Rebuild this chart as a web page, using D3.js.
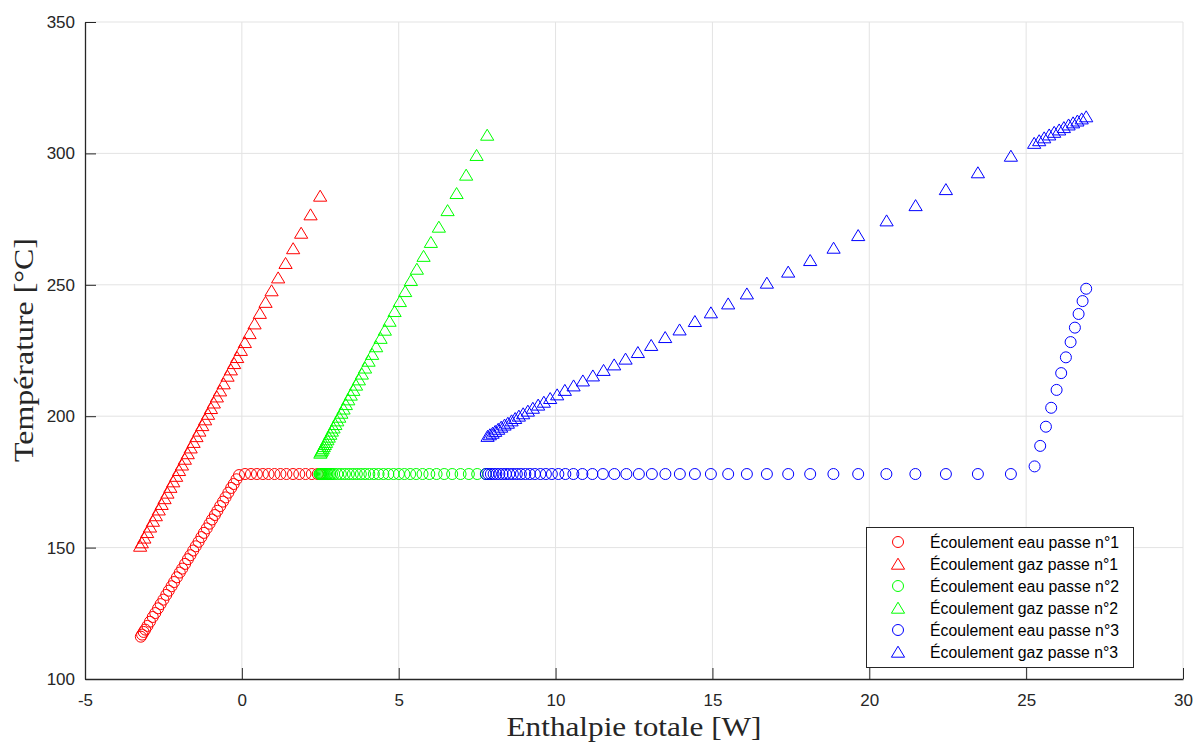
<!DOCTYPE html>
<html><head><meta charset="utf-8">
<script src="https://cdn.jsdelivr.net/npm/d3@7"></script>
<style>body{margin:0;background:#fff}</style>
</head><body>
<svg id="chart" width="1199" height="742"></svg>
<script>
// ---------- DATA ----------
const xTicks = [-5,0,5,10,15,20,25,30];
const yTicks = [100,150,200,250,300,350];
const seriesNames = ["Écoulement eau passe n°1","Écoulement gaz passe n°1","Écoulement eau passe n°2","Écoulement gaz passe n°2","Écoulement eau passe n°3","Écoulement gaz passe n°3"];

// Pass 1 water
const eau1H = [-3.22,-3.18,-3.13,-3.08,-3.01,-2.93,-2.84,-2.76,-2.67,-2.59,-2.50,-2.41,-2.33,-2.24,-2.16,-2.07,-1.98,-1.90,-1.81,-1.72,-1.64,-1.55,-1.47,-1.38,-1.29,-1.21,-1.12,-1.03,-0.95,-0.86,-0.78,-0.69,-0.60,-0.52,-0.43,-0.34,-0.26,-0.17,-0.09,
  0.10,0.29,0.48,0.67,0.85,1.04,1.23,1.42,1.63,1.83,2.03,2.23,2.42];
const eau1T = [116.1,116.9,117.9,118.8,120.2,121.8,123.6,125.1,126.9,128.5,130.2,132.0,133.6,135.3,136.9,138.7,140.5,142.0,143.8,145.6,147.1,148.9,150.5,152.2,154.0,155.6,157.3,159.1,160.7,162.4,164.0,165.8,167.5,169.1,170.9,172.7,174.2,176.0,177.6,
  178.0,178.0,178.0,178.0,178.0,178.0,178.0,178.0,178.0,178.0,178.0,178.0,178.0];
// Pass 1 gas
const gaz1H = [-3.242,-3.188,-3.108,-3.019,-2.927,-2.834,-2.742,-2.649,-2.557,-2.464,-2.372,-2.279,-2.187,-2.094,-2.002,-1.909,-1.817,-1.724,-1.632,-1.539,-1.447,-1.355,-1.262,-1.170,-1.077,-0.985,-0.893,-0.797,-0.695,-0.580,-0.456,-0.351,-0.245,-0.150,-0.032,0.096,0.245,0.405,0.574,0.755,0.947,1.157,1.393,1.635,1.890,2.190,2.496];
const gaz1T = [150.6,151.9,153.7,155.8,157.9,160.1,162.2,164.4,166.5,168.7,170.8,173.0,175.1,177.2,179.4,181.5,183.7,185.8,188.0,190.1,192.3,194.4,196.5,198.7,200.8,203.0,205.1,207.4,209.7,212.4,215.3,217.7,220.1,222.4,225.1,228.1,231.5,235.2,239.2,243.4,247.8,252.7,258.2,263.8,269.7,276.7,283.8];
// Pass 2 water
const eau2H = [2.471,2.486,2.506,2.528,2.553,2.582,2.614,2.649,2.687,2.729,2.773,2.821,2.875,2.942,3.044,3.156,3.283,3.411,3.538,3.666,3.793,3.927,4.064,4.208,4.358,4.511,4.670,4.836,5.005,5.180,5.365,5.556,5.759,5.976,6.207,6.449,6.704,6.972,7.236,7.501,7.778];
const eau2T = [178.0,178.0,178.0,178.0,178.0,178.0,178.0,178.0,178.0,178.0,178.0,178.0,178.0,178.0,178.0,178.0,178.0,178.0,178.0,178.0,178.0,178.0,178.0,178.0,178.0,178.0,178.0,178.0,178.0,178.0,178.0,178.0,178.0,178.0,178.0,178.0,178.0,178.0,178.0,178.0,178.0];
// Pass 2 gas
const gaz2H = [2.502,2.525,2.550,2.579,2.611,2.646,2.684,2.726,2.770,2.818,2.869,2.923,2.981,3.041,3.105,3.172,3.242,3.315,3.392,3.471,3.554,3.640,3.730,3.825,3.927,4.039,4.154,4.281,4.421,4.558,4.708,4.868,5.037,5.206,5.388,5.579,5.792,6.025,6.280,6.558,6.845,7.150,7.482,7.820];
const gaz2T = [186.0,186.5,187.1,187.7,188.5,189.3,190.1,191.1,192.1,193.2,194.4,195.6,196.9,198.3,199.7,201.2,202.8,204.5,206.3,208.1,209.9,211.9,213.9,216.1,218.4,221.0,223.6,226.5,229.7,232.8,236.2,239.9,243.7,247.5,251.7,256.0,260.9,266.2,272.0,278.3,284.8,291.8,299.3,307.0];
// Pass 3 water
const eau3H = [7.778,7.858,7.938,8.024,8.113,8.209,8.311,8.416,8.527,8.639,8.766,8.894,9.037,9.181,9.340,9.516,9.691,9.882,10.089,10.312,10.567,10.854,11.173,11.508,11.874,12.257,12.655,13.070,13.500,13.962,14.441,14.951,15.502,16.098,16.736,17.415,18.116,18.856,19.646,20.545,21.469,22.442,23.462,24.514,
  25.269,25.448,25.630,25.798,25.971,26.117,26.267,26.417,26.554,26.672,26.799,26.914];
const eau3T = [178.0,178.0,178.0,178.0,178.0,178.0,178.0,178.0,178.0,178.0,178.0,178.0,178.0,178.0,178.0,178.0,178.0,178.0,178.0,178.0,178.0,178.0,178.0,178.0,178.0,178.0,178.0,178.0,178.0,178.0,178.0,178.0,178.0,178.0,178.0,178.0,178.0,178.0,178.0,178.0,178.0,178.0,178.0,178.0,
  180.9,188.7,196.0,203.2,210.0,216.4,222.4,228.2,233.7,238.9,243.8,248.5];
// Pass 3 gas
const gaz3H = [7.832,7.906,7.992,8.075,8.170,8.266,8.374,8.479,8.597,8.712,8.830,8.967,9.117,9.276,9.445,9.627,9.828,10.051,10.296,10.574,10.870,11.189,11.530,11.868,12.231,12.624,13.048,13.494,13.953,14.441,14.951,15.502,16.098,16.736,17.415,18.116,18.862,19.646,20.552,21.476,22.442,23.462,24.514,
  25.256,25.416,25.575,25.735,25.894,26.053,26.203,26.353,26.497,26.634,26.771,26.914];
const gaz3T = [192.4,193.0,193.6,194.3,195.1,195.9,196.7,197.4,198.3,199.2,200.1,201.0,202.0,203.1,204.3,205.4,206.8,208.2,209.9,211.6,213.5,215.4,217.5,219.6,221.8,224.3,227.0,230.0,232.9,236.1,239.4,242.8,246.6,250.7,254.9,259.3,264.0,268.8,274.4,280.2,286.3,292.7,299.0,
  303.9,304.9,306.0,307.1,308.1,309.0,309.9,310.9,311.7,312.4,313.2,314.0];

// ---------- CHART ----------
const svg = d3.select("#chart");
const L = 85, R = 1183, T = 22, B = 679;
const x = d3.scaleLinear().domain([-5,30]).range([L,R]);
const y = d3.scaleLinear().domain([100,350]).range([B,T]);
const axisColor = "#262626";
const tickFont = "'Liberation Sans', Arial, sans-serif";

// grid
const grid = svg.append("g");
grid.selectAll("line.gx").data(xTicks.slice(1)).enter().append("line")
  .attr("x1", d=>x(d)).attr("x2", d=>x(d)).attr("y1", B).attr("y2", T)
  .attr("stroke", "#e3e3e3").attr("stroke-width", 1);
grid.selectAll("line.gy").data(yTicks.slice(1)).enter().append("line")
  .attr("y1", d=>y(d)).attr("y2", d=>y(d)).attr("x1", L).attr("x2", R)
  .attr("stroke", "#e3e3e3").attr("stroke-width", 1);

// axes
const fmt = d => String(d);
const xAxis = d3.axisBottom(x).tickValues(xTicks).tickFormat(fmt).tickSizeInner(-11).tickSizeOuter(0).tickPadding(15);
const yAxis = d3.axisLeft(y).tickValues(yTicks).tickFormat(fmt).tickSizeInner(-11).tickSizeOuter(0).tickPadding(10);
const gx = svg.append("g").attr("transform", `translate(0,${B})`).call(xAxis);
const gy = svg.append("g").attr("transform", `translate(${L},0)`).call(yAxis);
[gx, gy].forEach(g => {
  g.select(".domain").attr("stroke", axisColor).attr("stroke-width", 1.3);
  g.selectAll(".tick line").attr("stroke", axisColor).attr("stroke-width", 1);
  g.selectAll(".tick text").attr("fill", axisColor).style("font-family", tickFont).style("font-size", "17px");
});

// axis titles
svg.append("text").attr("x", (L+R)/2).attr("y", 736).attr("text-anchor", "middle")
  .attr("textLength", 255).attr("lengthAdjust", "spacingAndGlyphs")
  .style("font-family", "'Liberation Serif', 'Times New Roman', serif").style("font-size", "28px").attr("fill", "#262626")
  .text("Enthalpie totale [W]");
svg.append("text").attr("transform", `translate(33,350) rotate(-90)`).attr("text-anchor", "middle")
  .attr("textLength", 224).attr("lengthAdjust", "spacingAndGlyphs")
  .style("font-family", "'Liberation Serif', 'Times New Roman', serif").style("font-size", "28px").attr("fill", "#262626")
  .text("Température [°C]");

// markers
const triPath = "M0,-5.8L6.6,5.2L-6.6,5.2Z";
function drawSeries(H, Tv, color, kind){
  const data = H.map((h,i)=>({h, t: Tv[i]}));
  const g = svg.append("g");
  if (kind === "o") {
    g.selectAll("circle").data(data).enter().append("circle")
      .attr("cx", d=>x(d.h)).attr("cy", d=>y(d.t)).attr("r", 5.5)
      .attr("fill", "none").attr("stroke", color).attr("stroke-width", 1);
  } else {
    g.selectAll("path").data(data).enter().append("path")
      .attr("transform", d=>`translate(${x(d.h)},${y(d.t)})`).attr("d", triPath)
      .attr("fill", "none").attr("stroke", color).attr("stroke-width", 1);
  }
}
const colors = ["#ff0000","#ff0000","#00ff00","#00ff00","#0000ff","#0000ff"];
const kinds = ["o","^","o","^","o","^"];
drawSeries(eau1H, eau1T, colors[0], "o");
drawSeries(gaz1H, gaz1T, colors[1], "^");
drawSeries(eau2H, eau2T, colors[2], "o");
drawSeries(gaz2H, gaz2T, colors[3], "^");
drawSeries(eau3H, eau3T, colors[4], "o");
drawSeries(gaz3H, gaz3T, colors[5], "^");

// legend
const lg = svg.append("g");
lg.append("rect").attr("x", 866.5).attr("y", 527.5).attr("width", 267).attr("height", 140)
  .attr("fill", "#fff").attr("stroke", axisColor).attr("stroke-width", 1);
seriesNames.forEach((name, i) => {
  const cy = 542 + i*22;
  if (kinds[i] === "o") {
    lg.append("circle").attr("cx", 898).attr("cy", cy).attr("r", 5.5).attr("fill", "none").attr("stroke", colors[i]).attr("stroke-width", 1);
  } else {
    lg.append("path").attr("transform", `translate(898,${cy})`).attr("d", triPath).attr("fill", "none").attr("stroke", colors[i]).attr("stroke-width", 1);
  }
  lg.append("text").attr("x", 930).attr("y", cy + 6).style("font-family", tickFont).style("font-size", "15.8px").attr("fill", "#000").text(name);
});
</script>
</body></html>
